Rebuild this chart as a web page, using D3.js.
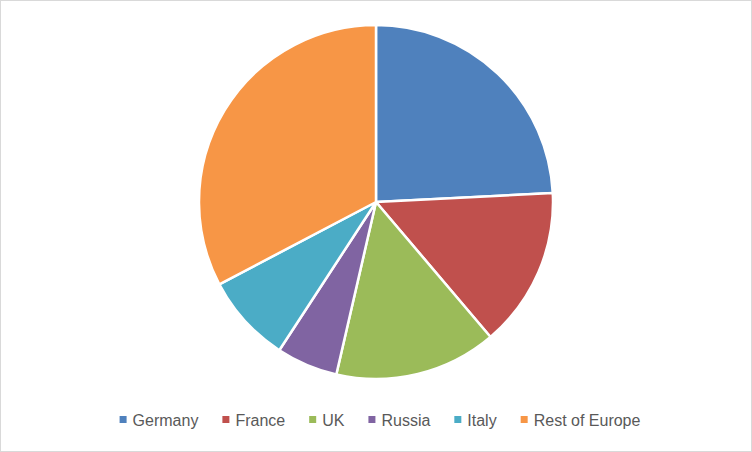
<!DOCTYPE html>
<html><head><meta charset="utf-8">
<script src="https://cdn.jsdelivr.net/npm/d3@7"></script>
<style>body{margin:0;background:#fff}svg{display:block}</style>
</head><body>
<svg id="c" width="752" height="452"></svg>
<script>
const categories = ["Germany","France","UK","Russia","Italy","Rest of Europe"];
const values = [24.2, 14.6, 14.8, 5.6, 8.1, 32.7];
const colors = ["#4F81BD","#C0504D","#9BBB59","#8064A2","#4BACC6","#F79646"];

const svg = d3.select("#c");
svg.append("rect").attr("x",0.5).attr("y",0.5).attr("width",751).attr("height",451)
  .attr("fill","#fff").attr("stroke","#d9d9d9");

const cx = 376, cy = 202, r = 177;
const pie = d3.pie().sort(null).value(d=>d)(values);
const arc = d3.arc().innerRadius(0).outerRadius(r);
const g = svg.append("g").attr("transform",`translate(${cx},${cy})`);
g.selectAll("path").data(pie).join("path")
  .attr("d",arc).attr("fill",(d,i)=>colors[i])
  .attr("stroke","#fff").attr("stroke-width",2.5).attr("stroke-linejoin","round");

const lg = svg.append("g");
const items = lg.selectAll("g").data(categories).join("g");
items.append("rect").attr("width",7).attr("height",7).attr("y",-4).attr("fill",(d,i)=>colors[i]);
items.append("text").attr("x",13).attr("y",0).attr("dy","0.35em")
  .attr("font-family","'Liberation Sans', Arial, sans-serif").attr("font-size",16)
  .attr("fill","#595959").text(d=>d);
const widths = [];
items.each(function(){ widths.push(13 + d3.select(this).select("text").node().getComputedTextLength()); });
const gap = 24;
const total = d3.sum(widths) + gap*(widths.length-1);
let x = 380 - total/2;
items.each(function(d,i){ d3.select(this).attr("transform",`translate(${x},420)`); x += widths[i] + gap; });
</script>
</body></html>
